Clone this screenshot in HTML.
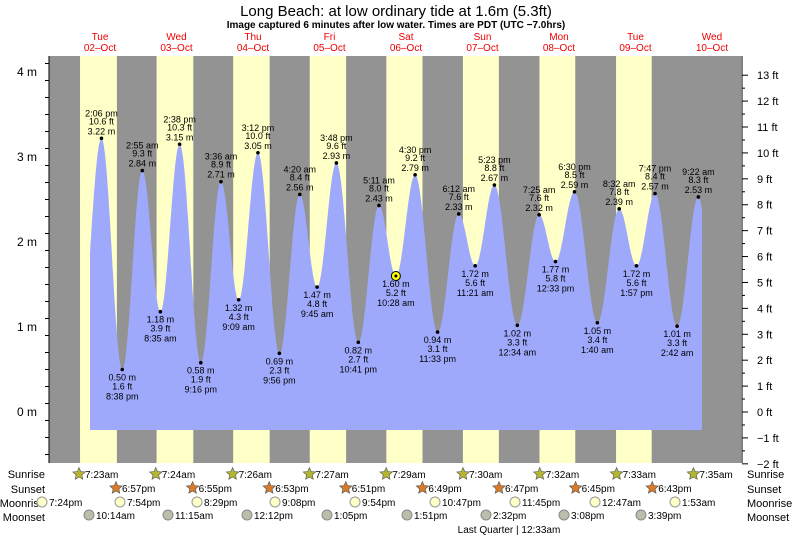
<!DOCTYPE html>
<html><head><meta charset="utf-8"><style>
body{margin:0;background:#fff;}
svg{display:block;font-family:"Liberation Sans",sans-serif;}
</style></head><body>
<svg id="s" width="793" height="537" xmlns="http://www.w3.org/2000/svg"></svg>
<script>
const s=document.getElementById('s');let h='';
const X=t=>56.5+t*3.1875; // t in hours from Tue 00:00
const Y=m=>412-m*85;
h+='<rect x="49" y="56" width="692" height="407" fill="#939393"/>';
const sr=[7.38,7.4,7.43,7.45,7.48,7.5,7.53,7.55], ss=[18.95,18.92,18.88,18.85,18.82,18.78,18.75,18.72];
for(let d=0;d<8;d++){let a=X(d*24+sr[d]),b=X(d*24+ss[d]);h+=`<rect x="${a}" y="56" width="${b-a}" height="407" fill="#ffffc8"/>`;}
const E=[[7.2,0.7],[14.1,3.22,'2:06 pm','10.6'],[20.63,0.50,'8:38 pm','1.6'],[26.92,2.84,'2:55 am','9.3'],[32.58,1.18,'8:35 am','3.9'],[38.63,3.15,'2:38 pm','10.3'],[45.27,0.58,'9:16 pm','1.9'],[51.6,2.71,'3:36 am','8.9'],[57.15,1.32,'9:09 am','4.3'],[63.2,3.05,'3:12 pm','10.0'],[69.93,0.69,'9:56 pm','2.3'],[76.33,2.56,'4:20 am','8.4'],[81.75,1.47,'9:45 am','4.8'],[87.8,2.93,'3:48 pm','9.6'],[94.68,0.82,'10:41 pm','2.7'],[101.18,2.43,'5:11 am','8.0'],[106.47,1.60,'10:28 am','5.2'],[112.5,2.79,'4:30 pm','9.2'],[119.55,0.94,'11:33 pm','3.1'],[126.2,2.33,'6:12 am','7.6'],[131.35,1.72,'11:21 am','5.6'],[137.38,2.67,'5:23 pm','8.8'],[144.57,1.02,'12:34 am','3.3'],[151.42,2.32,'7:25 am','7.6'],[156.55,1.77,'12:33 pm','5.8'],[162.5,2.59,'6:30 pm','8.5'],[169.67,1.05,'1:40 am','3.4'],[176.53,2.39,'8:32 am','7.8'],[181.95,1.72,'1:57 pm','5.6'],[187.78,2.57,'7:47 pm','8.4'],[194.7,1.01,'2:42 am','3.3'],[201.37,2.53,'9:22 am','8.3'],[207.6,0.6]];
function val(t){for(let i=0;i<E.length-1;i++){const[a,va]=E[i],[b,vb]=E[i+1];if(t>=a&&t<=b){const f=(1-Math.cos(Math.PI*(t-a)/(b-a)))/2;return va+(vb-va)*f;}}return 0;}
const t0=(90-56.5)/3.1875,t1=(702-56.5)/3.1875;let p=`M90 430`;
for(let t=t0;t<=t1;t+=0.1)p+=` L${X(t).toFixed(1)} ${Y(val(t)).toFixed(1)}`;
p+=` L702 ${Y(val(t1)).toFixed(1)} L702 430 Z`;
h+=`<path d="${p}" fill="#9fa9fc"/>`;
// axes
h+='<line x1="49" y1="56" x2="49" y2="463" stroke="#000"/><line x1="742" y1="56" x2="742" y2="463" stroke="#000"/>';
for(let m=-0.5;m<=4.2;m+=0.2){const y=Y(m);if(y<57||y>463)continue;const big=Math.abs(m-Math.round(m))<0.01;h+=`<line x1="${big?42:45}" y1="${y}" x2="49" y2="${y}" stroke="#000"/>`;}
for(let m=0;m<=4;m++)h+=`<text x="37" y="${Y(m)+4}" font-size="12" text-anchor="end">${m} m</text>`;
for(let f=-2;f<=13;f++){const y=412-f*0.3048*85;h+=`<line x1="742" y1="${y}" x2="748" y2="${y}" stroke="#000"/><text x="757" y="${y+4}" font-size="11">${f<0?'\u2212'+(-f):f} ft</text>`;
 if(f<13){const y2=y-0.5*0.3048*85;h+=`<line x1="742" y1="${y2}" x2="745" y2="${y2}" stroke="#000"/>`;}}
// day labels
const dn=['Tue','Wed','Thu','Fri','Sat','Sun','Mon','Tue','Wed'];
for(let d=0;d<9;d++){const x=100+76.5*d;h+=`<text x="${x}" y="40" font-size="10" fill="#e00" text-anchor="middle">${dn[d]}</text><text x="${x}" y="51" font-size="10" fill="#e00" text-anchor="middle">${String(d+2).padStart(2,'0')}\u2013Oct</text>`;}
h+='<text x="396" y="16" font-size="15" text-anchor="middle">Long Beach: at low  ordinary tide at 1.6m (5.3ft)</text>';
h+='<text x="396" y="28" font-size="10" font-weight="bold" text-anchor="middle">Image captured 6 minutes after low water. Times are PDT (UTC \u22127.0hrs)</text>';
// extreme labels
for(let i=1;i<E.length-1;i++){const[t,v,tm,ft]=E[i];const x=X(t),y=Y(v);const hi=v>E[i-1][1];
h+=`<circle cx="${x}" cy="${y}" r="1.8" fill="#000"/>`;
if(hi){h+=`<text x="${x}" y="${y-4}" font-size="9" text-anchor="middle">${v.toFixed(2)} m</text><text x="${x}" y="${y-14}" font-size="9" text-anchor="middle">${ft} ft</text><text x="${x}" y="${y-22}" font-size="9" text-anchor="middle">${tm}</text>`;}
else{h+=`<text x="${x}" y="${y+11}" font-size="9" text-anchor="middle">${v.toFixed(2)} m</text><text x="${x}" y="${y+20}" font-size="9" text-anchor="middle">${ft} ft</text><text x="${x}" y="${y+30}" font-size="9" text-anchor="middle">${tm}</text>`;}}
h+=`<circle cx="${X(106.47)}" cy="${Y(1.6)}" r="4.5" fill="#ff0" stroke="#000"/><circle cx="${X(106.47)}" cy="${Y(1.6)}" r="1.5" fill="#000"/>`;
// bottom rows
function star(x,y,c){let pts='';for(let k=0;k<10;k++){const r=k%2?3:6.5,a=-Math.PI/2+k*Math.PI/5;pts+=`${(x+r*Math.cos(a)).toFixed(1)},${(y+r*Math.sin(a)).toFixed(1)} `;}return `<polygon points="${pts}" fill="${c}" stroke="#555" stroke-width="0.6"/>`;}
const lab=(t,y)=>`<text x="45" y="${y}" font-size="11" text-anchor="end">${t}</text><text x="747" y="${y}" font-size="11">${t}</text>`;
h+=lab('Sunrise',478)+lab('Sunset',493)+lab('Moonrise',507)+lab('Moonset',521);
const srt=['7:23am','7:24am','7:26am','7:27am','7:29am','7:30am','7:32am','7:33am','7:35am'];
srt.forEach((t,i)=>{const x=79+76.8*i;h+=star(x,474,'#b5b530')+`<text x="${x+6}" y="478" font-size="10">${t}</text>`;});
const sst=['6:57pm','6:55pm','6:53pm','6:51pm','6:49pm','6:47pm','6:45pm','6:43pm'];
sst.forEach((t,i)=>{const x=116+76.6*i;h+=star(x,488,'#d87a2a')+`<text x="${x+6}" y="492" font-size="10">${t}</text>`;});
const mr=[[42,'7:24pm'],[120,'7:54pm'],[197,'8:29pm'],[275,'9:08pm'],[355,'9:54pm'],[435,'10:47pm'],[515,'11:45pm'],[595,'12:47am'],[675,'1:53am']];
mr.forEach(([x,t])=>{h+=`<circle cx="${x}" cy="502" r="5" fill="#ffffc8" stroke="#999"/><text x="${x+7}" y="506" font-size="10">${t}</text>`;});
const ms=[[89,'10:14am'],[168,'11:15am'],[247,'12:12pm'],[327,'1:05pm'],[407,'1:51pm'],[486,'2:32pm'],[564,'3:08pm'],[641,'3:39pm']];
ms.forEach(([x,t])=>{h+=`<circle cx="${x}" cy="515" r="5" fill="#bdbdab" stroke="#888"/><text x="${x+7}" y="519" font-size="10">${t}</text>`;});
h+='<text x="509" y="533" font-size="10" text-anchor="middle">Last Quarter | 12:33am</text>';
s.innerHTML=h;
</script>
</body></html>
